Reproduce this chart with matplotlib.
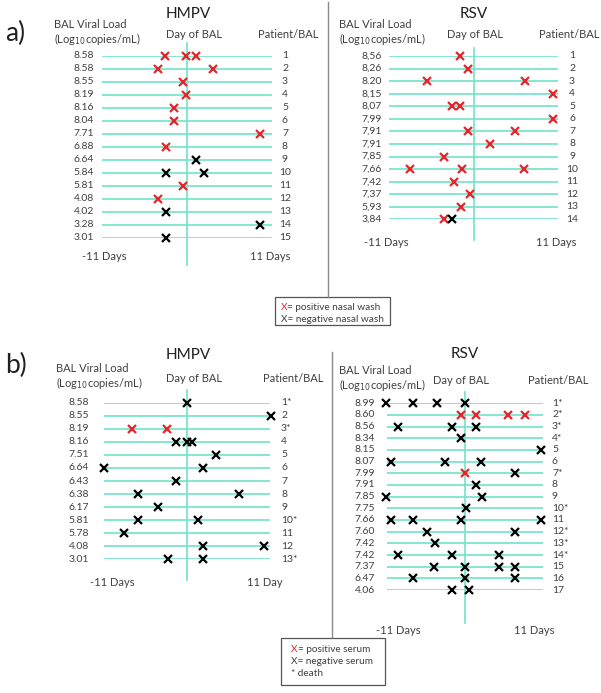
import matplotlib
matplotlib.use('Agg')
import matplotlib.pyplot as plt
from matplotlib.patches import Rectangle

plt.rcParams['font.family'] = ['Lato', 'DejaVu Sans']

W, H = 601, 693
GREEN = '#6fe3c8'
RED = '#e8232b'
TXT = '#404040'
GREY = '#8a8a8a'

# ---- a) HMPV : nasal wash ----
hmpv_a_load = ['8.58', '8.58', '8.55', '8.19', '8.16', '8.04', '7.71', '6.88',
               '6.64', '5.84', '5.81', '4.08', '4.02', '3.28', '3.01']
hmpv_a_patient = ['1', '2', '3', '4', '5', '6', '7', '8', '9', '10', '11', '12', '13', '14', '15']
hmpv_a_pos = [[-2.8, -0.1, 1.2], [-3.8, 3.4], [-0.5], [-0.1], [-1.7], [-1.7], [9.4], [-2.7],
              [], [], [-0.5], [-3.8], [], [], []]
hmpv_a_neg = [[], [], [], [], [], [], [], [], [1.2], [-2.7, 2.2], [], [], [-2.7], [9.4], [-2.7]]

# ---- a) RSV : nasal wash ----
rsv_a_load = ['8,56', '8,26', '8.20', '8,15', '8,07', '7,99', '7,91', '7,91', '7,85', '7,66',
              '7,42', '7,37', '5,93', '3,84']
rsv_a_patient = ['1', '2', '3', '4', '5', '6', '7', '8', '9', '10', '11', '12', '13', '14']
rsv_a_pos = [[-1.8], [-0.7], [-6.1, 6.7], [10.4], [-2.8, -1.7], [10.4], [-0.7, 5.4], [2.1],
             [-3.9], [-8.3, -1.5, 6.6], [-2.6], [-0.5], [-1.6], [-3.9]]
rsv_a_neg = [[], [], [], [], [], [], [], [], [], [], [], [], [], [-2.8]]

# ---- b) HMPV : serum ----
hmpv_b_load = ['8.58', '8.55', '8.19', '8.16', '7.51', '6.64', '6.43', '6.38', '6.17',
               '5.81', '5.78', '4.08', '3.01']
hmpv_b_patient = ['1*', '2', '3*', '4', '5', '6', '7', '8', '9', '10*', '11', '12', '13*']
hmpv_b_pos = [[], [], [-7.3, -2.7], [], [], [], [], [], [], [], [], [], []]
hmpv_b_neg = [[0.0], [11.1], [], [-1.5, 0.0, 0.7], [3.8], [-11.0, 2.1], [-1.5], [-6.5, 6.9],
              [-3.9], [-6.5, 1.5], [-8.3], [2.1, 10.2], [-2.5, 2.1]]

# ---- b) RSV : serum ----
rsv_b_load = ['8.99', '8.60', '8.56', '8.34', '8.15', '8.07', '7.99', '7.91', '7.85', '7.75',
              '7.66', '7.60', '7.42', '7.42', '7.37', '6.47', '4.06']
rsv_b_patient = ['1*', '2*', '3*', '4*', '5', '6', '7*', '8', '9', '10*', '11', '12*', '13*',
                 '14*', '15', '16', '17']
rsv_b_pos = [[], [-0.5, 1.6, 6.0, 8.4], [], [], [], [], [0.0], [], [], [], [], [], [], [], [], [], []]
rsv_b_neg = [[-11.2, -7.3, -3.9, 0.0], [], [-9.5, -1.8, 1.6], [-0.6], [10.7], [-10.5, -2.8, 2.3],
             [7.1], [1.5], [-11.2, 2.4], [0.1], [-10.5, -7.3, -0.5, 10.7], [-5.4, 7.1], [-4.3],
             [-9.5, -1.8, 4.8], [-4.4, 0.0, 4.8, 7.1], [-7.3, 0.0, 7.1], [-1.8, 0.6]]

fig = plt.figure(figsize=(W / 100, H / 100), dpi=100)
over = fig.add_axes([0, 0, 1, 1])
over.set_xlim(0, W)
over.set_ylim(H, 0)
over.axis('off')


def panel(x0, x1, y1, yn, loads, patients, pos, neg, vline, load_x, pat_x, pat_ha):
    n = len(loads)
    ax = fig.add_axes([x0 / W, 1 - yn / H, (x1 - x0) / W, (yn - y1) / H])
    ax.set_xlim(-11, 11)
    ax.set_ylim(n, 1)
    ax.axis('off')
    rows = list(range(1, n + 1))
    ax.hlines(rows, -11, 11, color=GREEN, lw=1.2)
    ax.plot([0, 0], vline, color=GREEN, lw=1.2, clip_on=False)
    for r, days in zip(rows, pos):
        ax.plot(days, [r] * len(days), 'x', color=RED, ms=5.8, mew=1.6, clip_on=False)
    for r, days in zip(rows, neg):
        ax.plot(days, [r] * len(days), 'x', color='black', ms=5.8, mew=1.6, clip_on=False)
    tr = ax.get_yaxis_transform()
    for r, lab, p in zip(rows, loads, patients):
        ax.text((load_x - x0) / (x1 - x0), r, lab, transform=tr, ha='right', va='center',
                fontsize=7.5, color=TXT)
        ax.text((pat_x - x0) / (x1 - x0), r, p, transform=tr, ha=pat_ha, va='center',
                fontsize=7.5, color=TXT)
    return ax


def headers(title, tx, ty, bx, by, dx, px, px_ha):
    over.text(tx, ty, title, ha='center', va='center', fontsize=11, color='#202020')
    over.text(bx, by, 'BAL Viral Load', ha='left', va='center', fontsize=8, color=TXT)
    over.text(bx, by + 14, r'(Log$_{10}$copies/mL)', ha='left', va='center', fontsize=8, color=TXT)
    over.text(dx, by + 9, 'Day of BAL', ha='center', va='center', fontsize=8, color=TXT)
    over.text(px, by + 9, 'Patient/BAL', ha=px_ha, va='center', fontsize=8, color=TXT)


# a) panels
panel(102, 272, 56, 56 + 14 * 12.98, hmpv_a_load, hmpv_a_patient, hmpv_a_pos, hmpv_a_neg,
      [0.0, 17.1], 94, 285, 'center')
panel(389, 558, 56, 56 + 13 * 12.57, rsv_a_load, rsv_a_patient, rsv_a_pos, rsv_a_neg,
      [0.4, 15.6], 382, 572, 'center')
headers('HMPV', 188, 14, 54, 25, 194, 258, 'left')
headers('RSV', 474, 14, 339, 25, 475, 569, 'center')
over.text(5, 33, 'a)', ha='left', va='center', fontsize=19, color='#202020')
over.text(104, 257, '-11 Days', ha='center', va='center', fontsize=8, color=TXT)
over.text(270, 257, '11 Days', ha='center', va='center', fontsize=8, color=TXT)
over.text(386, 242, '-11 Days', ha='center', va='center', fontsize=8, color=TXT)
over.text(556, 242, '11 Days', ha='center', va='center', fontsize=8, color=TXT)
over.plot([328, 328], [2, 297], color=GREY, lw=1)

# a) legend
over.add_patch(Rectangle((275, 297), 115, 28, fill=False, ec='#555555', lw=0.9))
over.text(281, 307, 'X', ha='left', va='center', fontsize=7.2, color=RED)
over.text(287, 307, '= positive nasal wash', ha='left', va='center', fontsize=7.2, color=TXT)
over.text(281, 320, 'X= negative nasal wash', ha='left', va='center', fontsize=7.2, color=TXT)

# b) panels
panel(104, 270, 402.7, 402.7 + 12 * 13.05, hmpv_b_load, hmpv_b_patient, hmpv_b_pos, hmpv_b_neg,
      [0.0, 14.6], 89, 281, 'left')
panel(387, 543, 403.3, 403.3 + 16 * 11.67, rsv_b_load, rsv_b_patient, rsv_b_pos, rsv_b_neg,
      [0.0, 19.8], 375, 552, 'left')
headers('HMPV', 188, 355, 56, 369, 194, 263, 'left')
headers('RSV', 465, 354, 339, 371, 461, 558, 'center')
over.text(5, 365, 'b)', ha='left', va='center', fontsize=19, color='#202020')
over.text(112, 582, '-11 Days', ha='center', va='center', fontsize=8, color=TXT)
over.text(265, 582, '11 Day', ha='center', va='center', fontsize=8, color=TXT)
over.text(398, 630, '-11 Days', ha='center', va='center', fontsize=8, color=TXT)
over.text(534, 630, '11 Days', ha='center', va='center', fontsize=8, color=TXT)
over.plot([332, 332], [352, 637], color=GREY, lw=1)

# b) legend
over.add_patch(Rectangle((281, 638), 104, 47, fill=False, ec='#555555', lw=0.9))
over.text(291, 649, 'X', ha='left', va='center', fontsize=7.2, color=RED)
over.text(298, 649, '= positive serum', ha='left', va='center', fontsize=7.2, color=TXT)
over.text(291, 662, 'X= negative serum', ha='left', va='center', fontsize=7.2, color=TXT)
over.text(291, 674, '* death', ha='left', va='center', fontsize=7.2, color=TXT)

fig.savefig('out.png', dpi=100)
